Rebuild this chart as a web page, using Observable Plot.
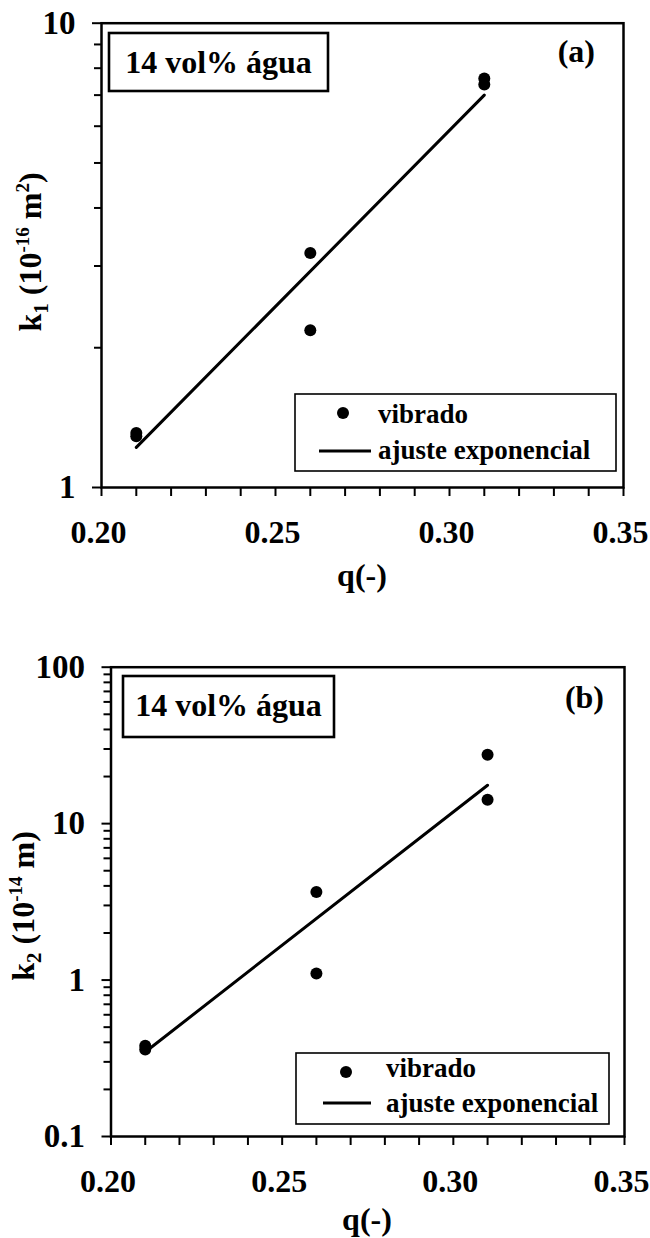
<!DOCTYPE html>
<html>
<head>
<meta charset="utf-8">
<script src="https://cdn.jsdelivr.net/npm/d3@7"></script>
<script src="https://cdn.jsdelivr.net/npm/@observablehq/plot@0.6"></script>
<style>
  body { margin: 0; background: #fff; }
  #chart { width: 650px; }
  #chart svg { display: block; }
</style>
</head>
<body>
<div id="chart"></div>
<script>
// ---------- data ----------
const qValues   = [0.21, 0.21, 0.26, 0.26, 0.31, 0.31];
const k1Values  = [1.31, 1.29, 3.20, 2.18, 7.60, 7.38];
const k2Values  = [0.38, 0.36, 3.65, 1.10, 27.6, 14.2];
const fitQ      = [0.21, 0.31];
const k1Fit     = [1.22, 7.0];
const k2Fit     = [0.347, 17.6];

const xMinorTicks  = [0.20, 0.21, 0.22, 0.23, 0.24, 0.25, 0.26, 0.27, 0.28, 0.29, 0.30, 0.31, 0.32, 0.33, 0.34, 0.35];
const xLabelTicks  = [0.20, 0.25, 0.30, 0.35];
const k1MinorTicks = [2, 3, 4, 5, 6, 7, 8, 9];
const k1MajorTicks = [1, 10];
const k2MinorTicks = [0.2, 0.3, 0.4, 0.5, 0.6, 0.7, 0.8, 0.9, 2, 3, 4, 5, 6, 7, 8, 9, 20, 30, 40, 50, 60, 70, 80, 90];
const k2MajorTicks = [0.1, 1, 10, 100];

const panelTitle   = "14 vol% água";
const panelTags    = ["(a)", "(b)"];
const legendLabels = ["vibrado", "ajuste exponencial"];
const xAxisLabel   = "q(-)";

const FONT = "'Liberation Serif', 'Times New Roman', Times, serif";

function makePanel(o) {
  const pts = qValues.map((q, i) => ({q, k: o.values[i]}));
  const fit = fitQ.map((q, i) => ({q, k: o.fit[i]}));
  const txtX = {fontSize: 32, fontWeight: "bold", fontFamily: FONT, fill: "black", dx: -3};
  const txtY = {fontSize: 33, fontWeight: "bold", fontFamily: FONT, fill: "black"};
  return Plot.plot({
    width: 650,
    height: o.height,
    marginTop: o.mt, marginRight: o.mr, marginBottom: o.mb, marginLeft: o.ml,
    style: {fontFamily: FONT, fontWeight: "bold", fontSize: "32px", background: "white", color: "black", overflow: "visible"},
    x: {domain: [0.20, 0.35]},
    y: {type: "log", domain: o.domain},
    marks: [
      Plot.axisX({ticks: xMinorTicks, tickSize: 9, strokeWidth: 2, tickFormat: () => "", label: null}),
      Plot.axisX({ticks: xLabelTicks, tickSize: 0, tickPadding: 33, tickFormat: d3.format(".2f"), label: null, ...txtX}),
      Plot.axisY({ticks: o.minor, tickSize: 7, strokeWidth: 2, tickFormat: () => "", label: null}),
      Plot.axisY({ticks: o.major, tickSize: 9, strokeWidth: 2, tickPadding: 17, tickFormat: d => String(d), label: null, ...txtY}),
      Plot.frame({stroke: "black", strokeWidth: 2.5}),
      Plot.line(fit, {x: "q", y: "k", stroke: "black", strokeWidth: 3}),
      Plot.dot(pts, {x: "q", y: "k", r: 6, fill: "black", stroke: "none"})
    ]
  });
}

function annotate(plot, a) {
  const svg = d3.select(plot);
  const g = svg.append("g").attr("font-family", FONT).attr("font-weight", "bold")
    .attr("fill", "black").attr("text-anchor", "start");
  // title box
  g.append("rect").attr("x", a.tb[0]).attr("y", a.tb[1]).attr("width", a.tb[2]).attr("height", a.tb[3])
    .attr("fill", "white").attr("stroke", "black").attr("stroke-width", 2.6);
  g.append("text").attr("x", a.tb[0] + a.tb[2] / 2).attr("y", a.titleY).attr("text-anchor", "middle")
    .attr("font-size", 32).text(panelTitle);
  // tag
  g.append("text").attr("x", a.tag[0]).attr("y", a.tag[1]).attr("text-anchor", "end")
    .attr("font-size", 32).text(a.tagText);
  // legend
  g.append("rect").attr("x", a.lb[0]).attr("y", a.lb[1]).attr("width", a.lb[2]).attr("height", a.lb[3])
    .attr("fill", "white").attr("stroke", "black").attr("stroke-width", 1.6);
  g.append("circle").attr("cx", a.dot[0]).attr("cy", a.dot[1]).attr("r", 6).attr("fill", "black");
  g.append("text").attr("x", a.tx).attr("y", a.t1y).attr("text-anchor", "start")
    .attr("font-size", 27).text(legendLabels[0]);
  g.append("line").attr("x1", a.ln[0]).attr("x2", a.ln[1]).attr("y1", a.ln[2]).attr("y2", a.ln[2])
    .attr("stroke", "black").attr("stroke-width", 3);
  g.append("text").attr("x", a.tx).attr("y", a.t2y).attr("text-anchor", "start")
    .attr("font-size", 27).text(legendLabels[1]);
  // x label
  g.append("text").attr("x", a.xl[0]).attr("y", a.xl[1]).attr("text-anchor", "middle")
    .attr("font-size", 32).text(xAxisLabel);
  // y label with sub/superscripts
  const yl = g.append("text").attr("transform", `translate(${a.yl[0]},${a.yl[1]}) rotate(-90)`)
    .attr("text-anchor", "middle").attr("font-size", 32);
  a.ylParts.forEach(p => {
    const t = yl.append("tspan").text(p.t);
    if (p.s) t.attr("font-size", p.s);
    if (p.dy) t.attr("dy", p.dy);
  });
}

const plotA = makePanel({height: 620, mt: 22.7, mr: 27, mb: 133, ml: 101,
  domain: [1, 10], values: k1Values, fit: k1Fit, minor: k1MinorTicks, major: k1MajorTicks});
annotate(plotA, {
  tb: [109, 33, 219, 58], titleY: 73,
  tag: [595, 62], tagText: panelTags[0],
  lb: [295, 394, 321, 77], dot: [343, 413], tx: 378, t1y: 423, ln: [319, 371, 451], t2y: 459,
  xl: [362, 586], yl: [41, 252],
  ylParts: [{t: "k"}, {t: "1", s: 21, dy: 7}, {t: " (10", s: 32, dy: -7}, {t: "-16", s: 19, dy: -12},
            {t: " m", s: 32, dy: 12}, {t: "2", s: 19, dy: -12}, {t: ")", s: 32, dy: 12}]
});

const plotB = makePanel({height: 618, mt: 46.7, mr: 26, mb: 102, ml: 110.5,
  domain: [0.1, 100], values: k2Values, fit: k2Fit, minor: k2MinorTicks, major: k2MajorTicks});
annotate(plotB, {
  tb: [123, 56, 211, 61], titleY: 96,
  tag: [604, 88], tagText: panelTags[1],
  lb: [296, 433, 313, 71], dot: [346, 452], tx: 386, t1y: 457, ln: [323, 371, 483], t2y: 492,
  xl: [367, 610], yl: [34, 286],
  ylParts: [{t: "k"}, {t: "2", s: 21, dy: 7}, {t: " (10", s: 32, dy: -7}, {t: "-14", s: 19, dy: -12},
            {t: " m)", s: 32, dy: 12}]
});

const chart = document.getElementById("chart");
chart.appendChild(plotA);
chart.appendChild(plotB);
</script>
</body>
</html>
